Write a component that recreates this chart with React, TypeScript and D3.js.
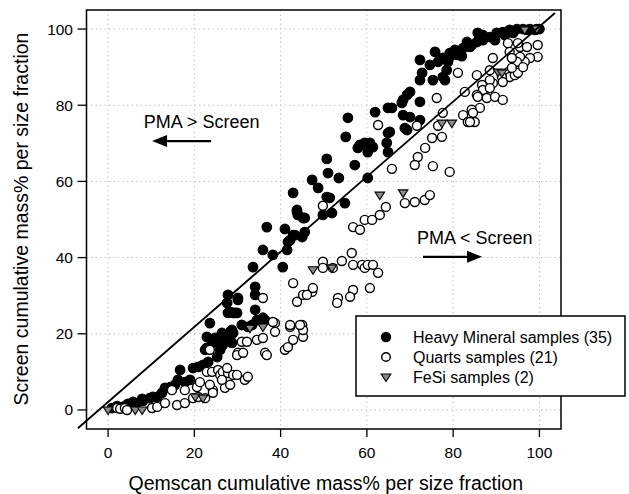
import React from "react";
import * as d3 from "d3";

// Heavy Mineral samples (filled circles)
const hmX = [2.1,3.9,5.8,7.9,8.1,9.7,10.4,11.4,12.5,13.2,14.4,15.5,16.2,16.7,17.8,19.0,19.7,20.9,22.0,23.2,22.9,22.9,24.1,24.8,25.5,26.4,27.1,28.3,28.7,23.6,27.6,27.8,29.9,30.1,31.0,22.5,25.3,26.0,26.6,28.3,29.0,29.0,33.6,34.1,34.1,34.1,34.5,35.9,38.2,40.5,41.5,42.2,32.4,33.4,35.9,36.4,47.3,42.9,43.8,44.0,45.6,36.8,41.0,43.3,45.6,45.0,41.7,49.8,50.7,27.8,30.1,28.3,29.4,28.7,55.6,61.9,64.9,68.1,69.3,68.4,69.3,64.9,64.6,64.9,55.1,58.4,59.5,60.7,57.9,60.2,50.7,57.2,51.0,53.5,60.2,51.4,54.9,43.8,45.2,51.9,42.9,75.8,76.5,77.6,79.2,80.9,72.3,72.8,72.3,75.3,78.1,70.0,68.4,72.3,65.8,70.0,72.3,68.8,65.3,61.4,82.3,83.9,85.5,86.9,86.9,88.5,90.1,91.5,93.1,94.8,96.2,97.8,99.4,85.7,83.2,77.6,78.5,79.2,0.9,4.6,6.7,48.7,80.4,82.0,84.3,86.2,89.7,92.0,93.9,97.3,99.0,100,78.8,74.6];
const hmY = [1.0,1.0,2.1,2.9,2.4,3.1,3.4,3.4,4.5,5.8,6.0,6.6,7.9,10.5,7.3,7.9,11.0,11.3,11.8,12.6,16.3,19.2,17.6,18.9,17.6,20.2,18.4,20.5,17.6,22.8,28.1,25.5,25.5,28.9,22.3,15.8,13.9,15.8,17.1,18.9,20.2,25.5,37.5,32.3,30.2,26.3,23.6,42.0,40.7,37.5,42.0,44.6,21.8,22.3,24.2,23.6,60.4,57.0,52.0,51.2,50.4,48.0,47.5,45.9,46.7,45.4,44.1,51.2,55.9,30.2,29.4,25.7,25.5,21.0,76.7,78.2,79.3,80.6,82.7,77.4,73.5,72.7,70.1,67.7,71.7,69.6,70.1,70.1,68.8,67.7,65.9,64.3,62.2,60.9,60.9,55.7,54.3,52.5,50.4,51.7,45.9,94.0,91.4,92.4,92.7,93.2,91.9,88.5,86.6,86.6,86.6,83.5,81.4,80.9,79.3,76.9,76.1,74.0,73.0,69.0,95.0,95.3,96.6,97.1,98.4,97.9,99.0,99.2,99.8,100,100,100,100,99.0,96.6,87.4,89.2,93.7,0.5,1.6,1.8,58.3,94.5,92.9,95.8,97.6,97.1,98.4,99.0,99.8,99.8,100,91.4,90.6];

// Quarts samples (open circles)
const qX = [2.1,2.8,3.9,4.4,10.2,11.4,13.2,14.8,16.0,17.8,17.8,19.7,20.6,21.3,22.5,22.9,23.6,24.3,24.1,25.5,26.0,26.6,27.8,29.0,29.9,27.1,28.3,30.1,31.0,23.6,26.4,20.9,24.3,27.6,31.7,32.4,29.9,34.5,35.9,36.4,36.8,35.9,38.7,38.7,41.0,41.7,42.9,42.2,42.9,43.8,45.2,45.2,45.0,45.2,47.3,47.5,32.2,31.3,44.5,49.8,49.8,49.8,38.2,42.2,62.6,65.8,68.8,56.8,58.4,59.5,61.2,63.0,64.4,71.1,73.4,52.1,54.2,56.5,56.8,58.9,59.5,60.2,61.4,62.6,60.7,56.8,56.1,53.3,53.1,46.1,81.1,76.2,71.6,76.5,77.6,77.4,75.1,73.5,71.8,85.5,89.2,93.1,95.5,97.1,99.6,99.6,97.8,96.6,95.5,94.8,93.6,92.7,93.1,94.3,95.0,91.3,91.5,89.2,88.5,86.7,86.9,88.5,82.7,85.5,85.7,87.8,89.7,91.5,86.2,84.3,82.3,83.4,84.6,85.0,88.5,96.2,93.6,92.7,95.0,83.9,75.3,79.2,74.6,71.1];
const qY = [0.5,0.3,0.5,0,0.5,0.8,1.8,5.2,1.3,1.8,5.2,3.1,6.0,7.3,3.1,10.0,15.8,5.2,10.0,10.5,9.2,10.0,9.7,9.2,9.2,5.8,6.6,15.0,17.9,6.6,7.9,3.4,4.5,11.0,7.9,8.7,14.4,18.4,18.9,15.0,14.4,29.4,22.8,20.5,15.8,16.5,18.4,21.8,33.3,28.4,30.2,19.2,22.3,21.0,31.0,32.0,17.9,15.0,22.3,38.9,37.3,53.6,23.1,22.3,74.8,63.3,54.3,48.0,47.3,49.9,49.9,51.2,53.3,54.6,55.1,37.3,39.1,41.2,38.1,38.1,37.3,38.1,38.1,36.0,32.0,31.5,29.7,29.4,28.1,30.2,88.5,81.9,74.6,74.6,78.0,71.7,71.4,68.8,66.4,87.9,92.4,94.0,95.3,95.3,95.8,92.7,92.4,91.4,92.7,91.4,92.4,88.7,87.4,87.9,88.5,87.4,86.1,85.8,86.6,85.3,84.0,84.5,83.5,82.7,82.2,81.9,82.2,81.4,79.3,78.8,77.4,75.6,78.0,75.6,89.2,90.0,89.8,96.3,96.3,75.6,64.0,62.5,56.4,64.3];

// FeSi samples (grey triangles)
const feX = [0,6.3,7.9,20.2,22.0,32.9,35.9,47.5,51.9,63.0,68.4,77.4,79.7,90.4,91.3,96.6,99.4];
const feY = [0,0,0,3.4,3.1,21.5,21.8,36.8,37.3,56.4,57.0,75.3,75.3,88.7,88.5,99.8,100];

// Reference line (end points)
const refX = [-7, 103.6];
const refY = [-4.8, 104.2];

const ticks = [0, 20, 40, 60, 80, 100];
const legendLabels = ["Heavy Mineral samples (35)", "Quarts samples (21)", "FeSi samples (2)"];

const W = 629, H = 494;
const L = 86.5, R = 561, T = 10, B = 429;
const FONT = "'Liberation Sans', Arial, Helvetica, sans-serif";

const tri = (cx: number, cy: number, s = 4.8) =>
  `${cx - s},${cy - s * 0.62} ${cx + s},${cy - s * 0.62} ${cx},${cy + s * 0.95}`;

export default function App() {
  const x = d3.scaleLinear().domain([-5, 105]).range([L, R]);
  const y = d3.scaleLinear().domain([-5, 105]).range([B, T]);
  const r = 4.8;

  const hm = hmX.map((v, i) => [v, hmY[i]]);
  const q = qX.map((v, i) => [v, qY[i]]);
  const fe = feX.map((v, i) => [v, feY[i]]);

  const lineGen = d3.line<number[]>().x((d) => x(d[0])).y((d) => y(d[1]));
  const refPts = refX.map((v, i) => [v, refY[i]]);

  const a1 = { tx: 8.3, ty: 74, x0: 23.9, x1: 10.2, ay: 70.6 };
  const a2 = { tx: 71.6, ty: 43.6, x0: 73, x1: 86.7, ay: 40.2 };

  const legX = 356, legY = 316, legW = 269, legH = 80;

  return (
    <svg width={W} height={H} style={{ position: "absolute", left: 0, top: 0, background: "#fff" }} fontFamily={FONT}>
      <rect x={0} y={0} width={W} height={H} fill="#fff" />
      {ticks.map((t) => (
        <g key={"g" + t}>
          <line x1={x(t)} x2={x(t)} y1={T} y2={B} stroke="#c4c4c4" strokeWidth={1} strokeDasharray="1.5,3" />
          <line x1={L} x2={R} y1={y(t)} y2={y(t)} stroke="#c4c4c4" strokeWidth={1} strokeDasharray="1.5,3" />
        </g>
      ))}
      {ticks.map((t) => (
        <g key={"t" + t}>
          <line x1={x(t)} x2={x(t)} y1={B} y2={B + 8} stroke="#000" strokeWidth={1.3} />
          <text x={x(t)} y={458} textAnchor="middle" fontSize={15.5} fill="#000">{t}</text>
          <line x1={L - 9} x2={L} y1={y(t)} y2={y(t)} stroke="#000" strokeWidth={1.3} />
          <text x={73} y={y(t) + 5.5} textAnchor="end" fontSize={15.5} fill="#000">{t}</text>
        </g>
      ))}
      <text x={(L + R) / 2 + 2} y={490} textAnchor="middle" fontSize={19.5} fill="#000">
        Qemscan cumulative mass% per size fraction
      </text>
      <text transform={`translate(27.5,${219}) rotate(-90)`} textAnchor="middle" fontSize={19.5} fill="#000">
        Screen cumulative mass% per size fraction
      </text>

      {hm.map((d, i) => (
        <circle key={"h" + i} cx={x(d[0])} cy={y(d[1])} r={r} fill="#000" stroke="#000" strokeWidth={1.2} />
      ))}
      {q.map((d, i) => (
        <circle key={"q" + i} cx={x(d[0])} cy={y(d[1])} r={r - 0.3} fill="#fff" stroke="#000" strokeWidth={1.4} />
      ))}
      {fe.map((d, i) => (
        <polygon key={"f" + i} points={tri(x(d[0]), y(d[1]))} fill="#8a8a8a" stroke="#000" strokeWidth={1.1} />
      ))}

      <path d={lineGen(refPts) || ""} fill="none" stroke="#000" strokeWidth={1.8} />

      <rect x={L} y={T} width={R - L} height={B - T} fill="none" stroke="#000" strokeWidth={1.5} />

      <text x={x(a1.tx)} y={y(a1.ty)} fontSize={18} fill="#000">PMA &gt; Screen</text>
      <line x1={x(a1.x0)} x2={x(a1.x1) + 12} y1={y(a1.ay)} y2={y(a1.ay)} stroke="#000" strokeWidth={2.2} />
      <polygon points={`${x(a1.x1)},${y(a1.ay)} ${x(a1.x1) + 15},${y(a1.ay) - 6} ${x(a1.x1) + 15},${y(a1.ay) + 6}`} fill="#000" />

      <text x={x(a2.tx)} y={y(a2.ty)} fontSize={18} fill="#000">PMA &lt; Screen</text>
      <line x1={x(a2.x0)} x2={x(a2.x1) - 12} y1={y(a2.ay)} y2={y(a2.ay)} stroke="#000" strokeWidth={2.2} />
      <polygon points={`${x(a2.x1)},${y(a2.ay)} ${x(a2.x1) - 15},${y(a2.ay) - 6} ${x(a2.x1) - 15},${y(a2.ay) + 6}`} fill="#000" />

      <rect x={legX} y={legY} width={legW} height={legH} fill="#fff" stroke="#000" strokeWidth={1.5} />
      {legendLabels.map((lab, i) => {
        const cy = legY + 21 + i * 20;
        return (
          <g key={"l" + i}>
            {i === 0 && <circle cx={386} cy={cy} r={4.6} fill="#000" stroke="#000" strokeWidth={1.2} />}
            {i === 1 && <circle cx={386} cy={cy} r={4.3} fill="#fff" stroke="#000" strokeWidth={1.4} />}
            {i === 2 && <polygon points={tri(386, cy)} fill="#8a8a8a" stroke="#000" strokeWidth={1.1} />}
            <text x={413} y={cy + 5.5} fontSize={16} fill="#000">{lab}</text>
          </g>
        );
      })}
    </svg>
  );
}
